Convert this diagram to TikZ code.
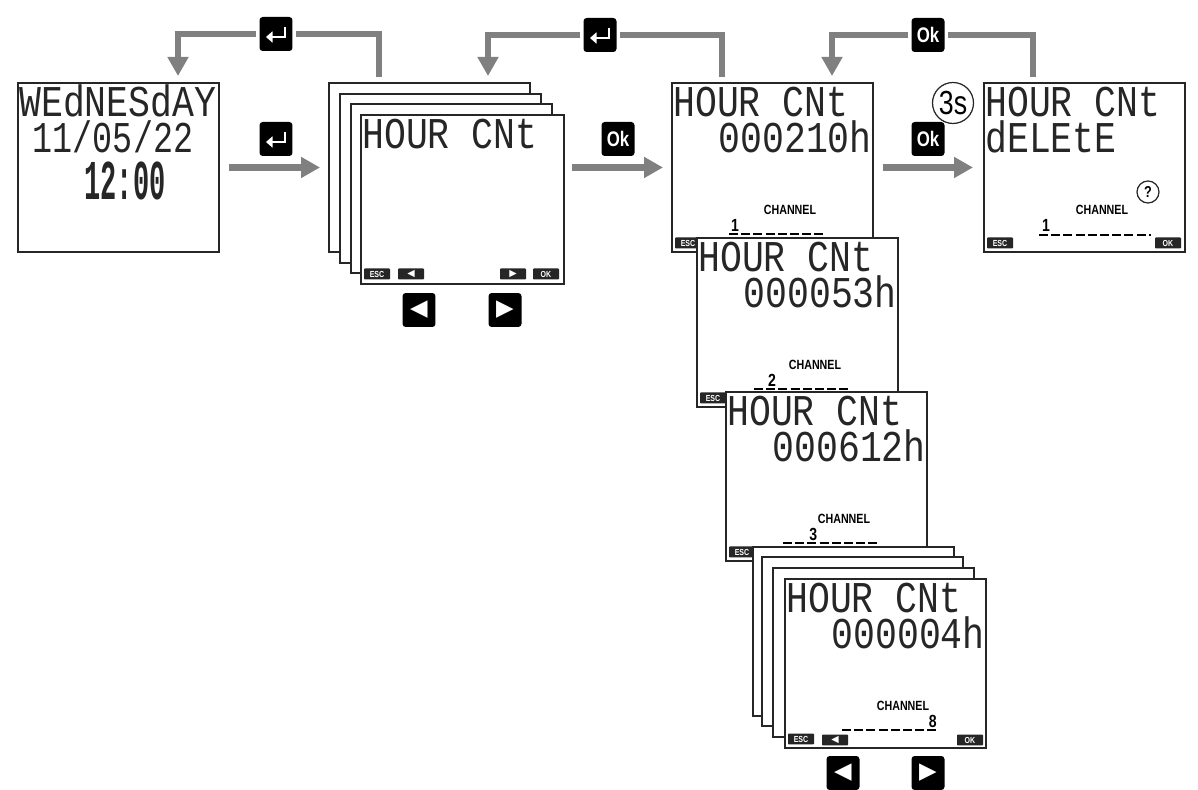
\documentclass[tikz,border=0pt]{standalone}
\usepackage{fontspec}
\usetikzlibrary{arrows.meta}

\newfontfamily\lcdfont[FakeStretch=0.83]{Liberation Mono}
\newfontfamily\datefont[FakeStretch=0.76]{Liberation Mono}
\newfontfamily\timefont[FakeStretch=0.48]{Liberation Mono}
\newfontfamily\labelfont[FakeStretch=0.8]{Liberation Sans}
\newfontfamily\symbolfont{DejaVu Sans}

\begin{document}
\begin{tikzpicture}[
  x=0.02cm, y=-0.02cm,
  screen/.style={draw=black!85, line width=0.85pt, fill=white, anchor=north west, inner sep=0pt, outer sep=0pt, minimum width=4.02cm, minimum height=3.38cm},
  lcdline/.style={font=\lcdfont\fontsize{25}{25}\selectfont, text=black!85, inner sep=0pt},
  channelname/.style={font=\labelfont\bfseries\fontsize{7.6}{8}\selectfont, inner sep=0pt},
  channelnum/.style={font=\labelfont\bfseries\fontsize{10}{10}\selectfont, inner sep=0pt},
  channelbar/.style={line width=0.95pt, dash pattern=on 5.1pt off 1.85pt},
  softkey/.style={fill=black!85, text=white, rounded corners=0.5pt, minimum width=0.52cm, minimum height=0.22cm, inner sep=0pt, font=\labelfont\bfseries\fontsize{5}{5}\selectfont},
  softarrow/.style={softkey, font=\symbolfont\fontsize{5.5}{5.5}\selectfont},
  keybtn/.style={fill=black, text=white, rounded corners=1.8pt, minimum width=0.66cm, minimum height=0.68cm, inner sep=0pt, outer sep=0.07cm},
  okbtn/.style={keybtn, font=\labelfont\bfseries\fontsize{12}{12}\selectfont},
  arrowbtn/.style={keybtn, font=\symbolfont\fontsize{13}{13}\selectfont},
  enterglyph/.style={white, line width=1.5pt, -{Triangle[width=0.22cm, length=0.13cm]}},
  graybar/.style={draw=black!50, line width=0.13cm},
  grayarrow/.style={graybar, -{Triangle[width=0.4cm, length=0.38cm]}},
]

\useasboundingbox (0,0) rectangle (1198,790);

% Helper macro: name, x, y of a key with the return symbol.
\newcommand{\enterkey}[3]{%
  \node[keybtn] (#1) at (#2,#3) {};%
  \draw[enterglyph] (#2+9,#3-7) |- (#2-10,#3+3);%
}

% Helper macro: name, x, y, hours, channel number.
\newcommand{\countscreen}[5]{%
  \pgfmathsetmacro{\digitx}{#2 + 57 + (#5 - 0.5) * 12.1}%
  \node[screen] (#1) at (#2,#3) {};%
  \node[lcdline, anchor=base west] (#1title) at (#2+1,#3+34) {HOUR CNt};%
  \node[lcdline, anchor=base east] (#1hours) at (#2+200,#3+70) {#4};%
  \node[channelname] (#1channel) at (#2+118,#3+127) {CHANNEL};%
  \node[channelnum] (#1digit) at (\digitx,#3+142) {#5};%
  \draw[channelbar] (#2+57,#3+151) -- ++(97,0);%
  \node[softkey] (#1esc) at (#2+16,#3+160) {ESC};%
}

% Date screen.
\node[screen] (dateScreen) at (18,83) {};
\draw[line width=1.4pt, draw=black!85] (dateScreen.north west) -- (dateScreen.south west);
\node[lcdline, anchor=base west] (dateDay) at (19,117) {WEdNESdAY};
\node[lcdline, font=\datefont\fontsize{25}{25}\selectfont, anchor=base] (dateDate) at (113,153) {11/05/22};
\node[lcdline, font=\timefont\bfseries\fontsize{32}{32}\selectfont, anchor=base] (dateTime) at (125,200) {12:00};

% Stack of menu pages.
\foreach \n/\x/\y in {1/329/83, 2/340/94, 3/351/104} {\node[screen] (menuSheet\n) at (\x,\y) {};}
\node[screen, minimum width=4.06cm] (menuScreen) at (361,115) {};
\node[lcdline, anchor=base west] (menuTitle) at (362,149) {HOUR CNt};
\node[softkey] (menuEsc) at (377,274) {ESC};
\node[softarrow] (menuPrev) at (411,274) {◀};
\node[softarrow] (menuNext) at (513,274) {▶};
\node[softkey] (menuOk) at (546,274) {OK};
\node[arrowbtn] (menuLeft) at (419,310) {◀};
\node[arrowbtn] (menuRight) at (505,310) {▶};

% Channel screens, last one in front.
\countscreen{chanOne}{672}{83}{000210h}{1}
\countscreen{chanTwo}{697}{238}{000053h}{2}
\countscreen{chanThree}{726}{392}{000612h}{3}

% Stack of remaining channels.
\foreach \n/\x/\y in {1/753/547, 2/762/557, 3/773/568} {\node[screen] (chanSheet\n) at (\x,\y) {};}
\countscreen{chanEight}{785}{579}{000004h}{8}
\node[softarrow] (chanEightPrev) at (835,740) {◀};
\node[softkey] (chanEightOk) at (970,740) {OK};
\node[arrowbtn] (chanLeft) at (843,773) {◀};
\node[arrowbtn] (chanRight) at (928,773) {▶};

% Delete screen.
\node[screen] (deleteScreen) at (984,83) {};
\node[lcdline, anchor=base west] (deleteTitle) at (985,117) {HOUR CNt};
\node[lcdline, anchor=base west] (deleteWord) at (985,153) {dELEtE};
\node[draw=black!85, line width=0.7pt, circle, minimum size=0.44cm, inner sep=0pt, font=\labelfont\bfseries\fontsize{9}{9}\selectfont] (deleteAsk) at (1148,192) {?};
\node[channelname] (deleteChannel) at (1102,210) {CHANNEL};
\node[channelnum] (deleteDigit) at (1046,225) {1};
\draw[channelbar] (1039,235) -- ++(112,0);
\node[softkey] (deleteEsc) at (1000,243) {ESC};
\node[softkey] (deleteOk) at (1168,243) {OK};

% Keys above the arrows.
\enterkey{keyEnterBack}{276}{34}
\enterkey{keyEnterIn}{276}{139}
\enterkey{keyEnterUp}{600}{35}
\node[okbtn] (keyOkIn) at (618,139) {Ok};
\node[okbtn] (keyOkBack) at (928,35) {Ok};
\node[okbtn] (keyOkHold) at (928,139) {Ok};
\node[draw=black!85, line width=0.7pt, circle, fill=white, minimum size=0.82cm, inner sep=0pt, font=\labelfont\fontsize{19}{19}\selectfont] (holdTime) at (953,103) {3s};

% Free ends of the return arrows.
\coordinate (backOneFrom) at (379,77);
\coordinate (backOneTo) at (178,76);
\coordinate (backTwoFrom) at (722,77);
\coordinate (backTwoTo) at (488,76);
\coordinate (backThreeFrom) at (1033,77);
\coordinate (backThreeTo) at (832,76);

% Arrows.
\draw[graybar] (backOneFrom) |- (keyEnterBack);
\draw[grayarrow] (keyEnterBack) -| (backOneTo);
\draw[graybar] (backTwoFrom) |- (keyEnterUp);
\draw[grayarrow] (keyEnterUp) -| (backTwoTo);
\draw[graybar] (backThreeFrom) |- (keyOkBack);
\draw[grayarrow] (keyOkBack) -| (backThreeTo);
\draw[grayarrow, shorten <=0.2cm, shorten >=0.18cm] (dateScreen.east) -- (menuSheet1.west);
\draw[grayarrow, shorten <=0.16cm, shorten >=0.18cm] (menuScreen.east |- chanOne.west) -- (chanOne.west);
\draw[grayarrow, shorten <=0.2cm, shorten >=0.22cm] (chanOne.east) -- (deleteScreen.west);

\end{tikzpicture}
\end{document}
